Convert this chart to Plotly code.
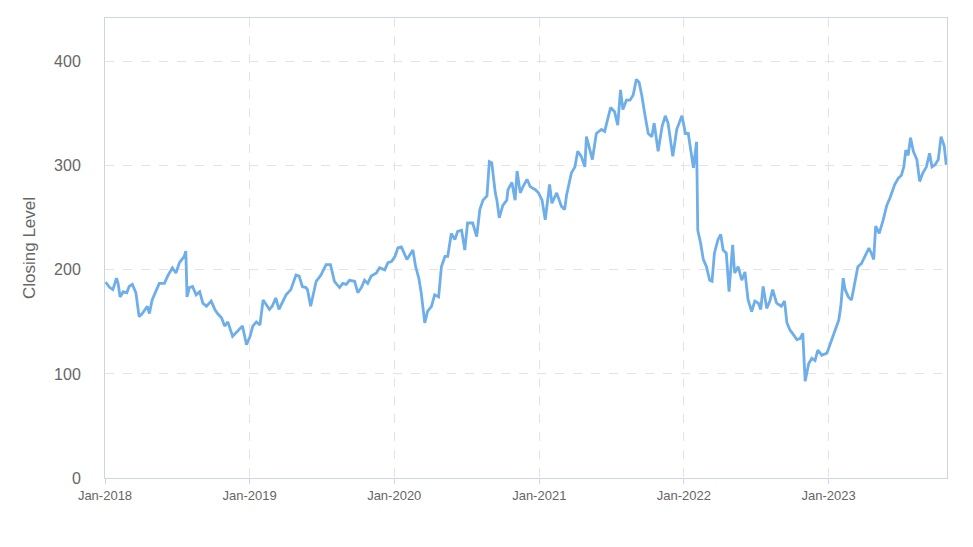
import plotly.graph_objects as go

dates = [
    "2018-01-02","2018-01-05","2018-01-13","2018-01-21","2018-01-30","2018-02-03","2018-02-08","2018-02-16",
    "2018-02-25","2018-03-03","2018-03-11","2018-03-20","2018-03-28","2018-04-05","2018-04-18","2018-04-23",
    "2018-04-30","2018-05-10","2018-05-18","2018-05-31","2018-06-08","2018-06-20","2018-06-29","2018-07-08",
    "2018-07-20","2018-07-24","2018-07-27","2018-08-02","2018-08-10","2018-08-19","2018-08-28","2018-09-05",
    "2018-09-14","2018-09-26","2018-10-05","2018-10-12","2018-10-22","2018-10-30","2018-11-07","2018-11-19",
    "2018-12-02","2018-12-14","2018-12-24",
    "2019-01-02","2019-01-09","2019-01-18","2019-01-27","2019-02-04","2019-02-13","2019-02-20","2019-02-27",
    "2019-03-08","2019-03-16","2019-03-24","2019-04-03","2019-04-15","2019-04-28","2019-05-06","2019-05-14",
    "2019-05-23","2019-05-27","2019-06-04","2019-06-09","2019-06-18","2019-06-30","2019-07-13","2019-07-24",
    "2019-08-03","2019-08-16","2019-08-24","2019-09-02","2019-09-10","2019-09-23","2019-10-01","2019-10-10",
    "2019-10-18","2019-10-26","2019-11-04","2019-11-17","2019-11-25","2019-12-08","2019-12-16","2019-12-25",
    "2020-01-03","2020-01-10","2020-01-19","2020-02-02","2020-02-09","2020-02-17","2020-02-24","2020-03-03",
    "2020-03-09","2020-03-18","2020-03-25","2020-04-04","2020-04-12","2020-04-22","2020-04-29","2020-05-08",
    "2020-05-15","2020-05-24","2020-06-02","2020-06-09","2020-06-19","2020-06-27","2020-07-04","2020-07-17",
    "2020-07-27","2020-08-04","2020-08-12","2020-08-22","2020-08-28","2020-09-03","2020-09-12","2020-09-16",
    "2020-09-22","2020-10-01","2020-10-11","2020-10-14","2020-10-24","2020-11-01","2020-11-06","2020-11-14",
    "2020-11-21","2020-12-01","2020-12-09","2020-12-22","2020-12-30",
    "2021-01-08","2021-01-16","2021-01-24","2021-01-27","2021-02-02","2021-02-14","2021-02-26","2021-03-06",
    "2021-03-11","2021-03-23","2021-04-01","2021-04-08","2021-04-17","2021-04-26","2021-04-30","2021-05-08",
    "2021-05-15","2021-05-25","2021-06-07","2021-06-15","2021-06-20","2021-06-30","2021-07-10","2021-07-18",
    "2021-07-25","2021-07-31","2021-08-09","2021-08-18","2021-08-26","2021-09-03","2021-09-10","2021-09-17",
    "2021-09-25","2021-10-03","2021-10-12","2021-10-18","2021-10-28","2021-11-07","2021-11-15","2021-11-22",
    "2021-12-04","2021-12-14","2021-12-27",
    "2022-01-05","2022-01-12","2022-01-22","2022-01-25","2022-02-02","2022-02-05","2022-02-12","2022-02-19",
    "2022-02-27","2022-03-07","2022-03-13","2022-03-19","2022-03-28","2022-04-04","2022-04-10","2022-04-18",
    "2022-04-25","2022-05-04","2022-05-09","2022-05-18","2022-05-27","2022-06-04","2022-06-12","2022-06-21",
    "2022-06-29","2022-07-08","2022-07-14","2022-07-20","2022-07-29","2022-08-06","2022-08-13","2022-08-23",
    "2022-09-04","2022-09-12","2022-09-18","2022-09-26","2022-10-04","2022-10-13","2022-10-21","2022-10-28",
    "2022-11-03","2022-11-12","2022-11-20","2022-11-28","2022-12-05","2022-12-15","2022-12-28",
    "2023-01-06","2023-01-14","2023-01-27","2023-02-01","2023-02-07","2023-02-12","2023-02-20","2023-02-28",
    "2023-03-08","2023-03-16","2023-03-25","2023-04-03","2023-04-13","2023-04-19","2023-04-25","2023-04-30",
    "2023-05-09","2023-05-19","2023-05-28","2023-06-05","2023-06-09","2023-06-17","2023-06-26","2023-07-04",
    "2023-07-10","2023-07-15","2023-07-21","2023-07-27","2023-08-03","2023-08-12","2023-08-19","2023-08-27",
    "2023-09-05","2023-09-13","2023-09-19","2023-09-27","2023-10-05","2023-10-12","2023-10-20","2023-10-25",
]

closing = [
    188,187,183,181,192,187,174,179,
    178,184,186,178,155,158,165,158,
    171,181,187,187,194,202,197,207,
    213,218,174,183,184,176,179,168,
    165,170,162,158,154,146,150,136,
    141,146,128,
    136,146,150,147,171,166,162,165,
    173,162,168,176,181,195,194,184,
    183,181,165,174,189,195,205,205,
    189,183,187,186,190,189,178,183,
    190,187,194,197,202,200,207,208,
    213,221,222,210,214,219,203,192,
    178,149,160,165,176,174,203,213,
    213,235,229,237,238,219,245,245,
    232,258,267,271,304,303,274,267,
    250,262,267,277,284,267,295,274,
    280,287,280,277,274,
    267,248,274,282,264,274,261,258,
    272,293,299,314,309,299,328,315,
    306,331,335,333,341,356,352,339,
    373,354,363,363,368,383,380,367,
    348,331,328,341,314,338,348,341,
    309,335,348,
    331,331,306,298,323,238,226,210,
    203,190,189,216,229,234,219,216,
    179,224,197,203,190,198,171,160,
    170,168,162,184,163,170,181,168,
    165,170,149,142,138,133,134,139,
    93,110,115,113,123,118,120,
    130,138,152,165,192,181,174,171,
    186,203,206,213,221,216,210,242,
    235,248,262,269,274,282,288,291,
    299,315,310,327,314,306,285,293,
    299,312,299,301,306,328,319,301,
]

year_ticks = ["2018-01-01", "2019-01-01", "2020-01-01", "2021-01-01", "2022-01-01", "2023-01-01"]
y_ticks = [0, 100, 200, 300, 400]

fig = go.Figure()
fig.add_trace(go.Scatter(
    x=dates, y=closing, mode="lines",
    line=dict(color="#6eaee9", width=2.8),
    showlegend=False,
))

font_family = "Liberation Sans, Arial, sans-serif"

fig.update_layout(
    width=973, height=547,
    margin=dict(l=105, r=26, t=18, b=69),
    paper_bgcolor="white", plot_bgcolor="white",
    font=dict(family=font_family, color="#666666"),
)

fig.update_xaxes(
    type="date",
    range=["2018-01-01", "2023-10-27"],
    tickvals=year_ticks,
    tickformat="%b-%Y",
    tickfont=dict(size=13, color="#666666"),
    ticks="outside", ticklen=5, tickcolor="#ccd6eb", tickwidth=1,
    showline=True, linecolor="#ccd6eb", linewidth=1, mirror=True,
    showgrid=True, gridcolor="#e3e3e3", griddash="dash", gridwidth=1,
    zeroline=False,
)

fig.update_yaxes(
    range=[0, 442],
    tickvals=y_ticks,
    tickfont=dict(size=16, color="#666666"),
    ticks="", ticklabelstandoff=20,
    showline=True, linecolor="#cfd3da", linewidth=1, mirror=True,
    showgrid=True, gridcolor="#e3e3e3", griddash="dash", gridwidth=1,
    zeroline=False,
    title=dict(text="Closing Level", font=dict(size=17, color="#666666"), standoff=14),
)

fig.write_html("out.html")
